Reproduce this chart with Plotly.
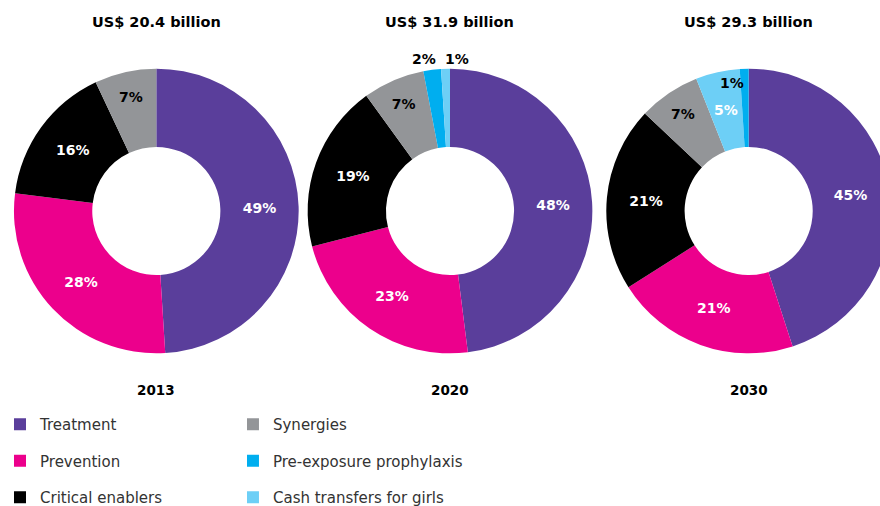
import math
import plotly.graph_objects as go

# ---- data ----
categories = ["Treatment", "Prevention", "Critical enablers", "Synergies",
              "Pre-exposure prophylaxis", "Cash transfers for girls"]
years = ["2013", "2020", "2030"]
totals = ["US$ 20.4 billion", "US$ 31.9 billion", "US$ 29.3 billion"]

labels_2013 = ["Treatment", "Prevention", "Critical enablers", "Synergies"]
values_2013 = [49, 28, 16, 7]

labels_2020 = ["Treatment", "Prevention", "Critical enablers", "Synergies",
               "Pre-exposure prophylaxis", "Cash transfers for girls"]
values_2020 = [48, 23, 19, 7, 2, 1]

labels_2030 = ["Treatment", "Prevention", "Critical enablers", "Synergies",
               "Cash transfers for girls", "Pre-exposure prophylaxis"]
values_2030 = [45, 21, 21, 7, 5, 1]

# ---- style ----
colors = {
    "Treatment": "#5a3e9b",
    "Prevention": "#ec008c",
    "Critical enablers": "#000000",
    "Synergies": "#939598",
    "Pre-exposure prophylaxis": "#00aeef",
    "Cash transfers for girls": "#6dcff6",
}
FONT = "DejaVu Sans"
W, H = 895, 530          # page is clipped to 880x506
HOLE = 0.45

pies = [
    (labels_2013, values_2013, "inside"),
    (labels_2020, values_2020, "outside"),
    (labels_2030, values_2030, "inside"),
]
centers_x = [153, 448, 748]
cy, R = 211, 143

fig = go.Figure()
for i, (labs, vals, small_mode) in enumerate(pies):
    cx = centers_x[i]
    texts, tcolors = [], []
    total = sum(vals)
    cum = 0
    small = [k for k, v in enumerate(vals) if v <= 5]
    for k, (lab, v) in enumerate(zip(labs, vals)):
        start = cum / total * 2 * math.pi
        mid = (cum + v / 2) / total * 2 * math.pi
        end = (cum + v) / total * 2 * math.pi
        cum += v
        if k in small:
            texts.append("")
            tcolors.append("#000000")
            if small_mode == "outside":
                rr = R + 9
                col = "#000000"
                if k == small[0]:
                    ang, anchor, dx = end, "right", -3
                else:
                    ang, anchor, dx = start, "left", 3
            elif v >= 3:
                rr = R * (1 + HOLE) / 2
                ang, anchor, dx = mid, "center", 0
                col = "#ffffff"
            else:
                rr = R - 15
                ang, anchor, dx = mid, "right", 1
                col = "#000000"
            ax = cx + rr * math.sin(ang) + dx
            ay = cy - rr * math.cos(ang)
            fig.add_annotation(text=f"<b>{v}%</b>", x=ax / W, y=1 - ay / H,
                               xref="paper", yref="paper", showarrow=False,
                               xanchor=anchor, yanchor="middle",
                               font=dict(family=FONT, size=14, color=col))
        else:
            texts.append(f"{v}%")
            tcolors.append("#000000" if lab == "Synergies" else "#ffffff")
    fig.add_trace(go.Pie(
        labels=labs, values=vals, sort=False, direction="clockwise", rotation=0,
        hole=HOLE, marker=dict(colors=[colors[l] for l in labs], line=dict(width=0)),
        text=texts, textinfo="text", textposition="inside",
        textfont=dict(family=FONT, size=14, color=tcolors, weight="bold"),
        insidetextorientation="horizontal", automargin=False, showlegend=False,
        hoverinfo="label+value",
        domain=dict(x=[(cx - R) / W, (cx + R) / W],
                    y=[1 - (cy + R) / H, 1 - (cy - R) / H]),
    ))
    fig.add_annotation(text=f"<b>{totals[i]}</b>", x=cx / W, y=1 - 22 / H,
                       xref="paper", yref="paper", showarrow=False,
                       xanchor="center", yanchor="middle",
                       font=dict(family=FONT, size=14.5, color="#000"))
    fig.add_annotation(text=f"<b>{years[i]}</b>", x=cx / W, y=1 - 390 / H,
                       xref="paper", yref="paper", showarrow=False,
                       xanchor="center", yanchor="middle",
                       font=dict(family=FONT, size=13.5, color="#000"))

# legend entries
for j, cat in enumerate(categories):
    fig.add_trace(go.Scatter(
        x=[None], y=[None], mode="markers", name=cat,
        marker=dict(symbol="square", size=12, color=colors[cat]),
        legend="legend" if j < 3 else "legend2", legendgroup=cat,
    ))

legend_common = dict(orientation="v", yanchor="top", xanchor="left",
                     font=dict(family=FONT, size=15, color="#333333"),
                     tracegroupgap=14, bgcolor="rgba(0,0,0,0)", itemclick=False)
fig.update_layout(
    width=W, height=H, margin=dict(l=0, r=0, t=0, b=0),
    paper_bgcolor="white", plot_bgcolor="white",
    xaxis=dict(visible=False), yaxis=dict(visible=False),
    legend=dict(x=-4 / W, y=1 - 408 / H, **legend_common),
    legend2=dict(x=230 / W, y=1 - 408 / H, **legend_common),
    uniformtext=dict(mode="show", minsize=14),
)

post = ("var gd=document.getElementById('{plot_id}');var p=gd.parentElement;"
        "p.style.width='880px';p.style.height='506px';p.style.overflow='hidden';"
        "document.documentElement.style.overflow='hidden';"
        "document.body.style.margin='0';document.body.style.overflow='hidden';")
fig.write_html("out.html", config={"displayModeBar": False}, post_script=post)
